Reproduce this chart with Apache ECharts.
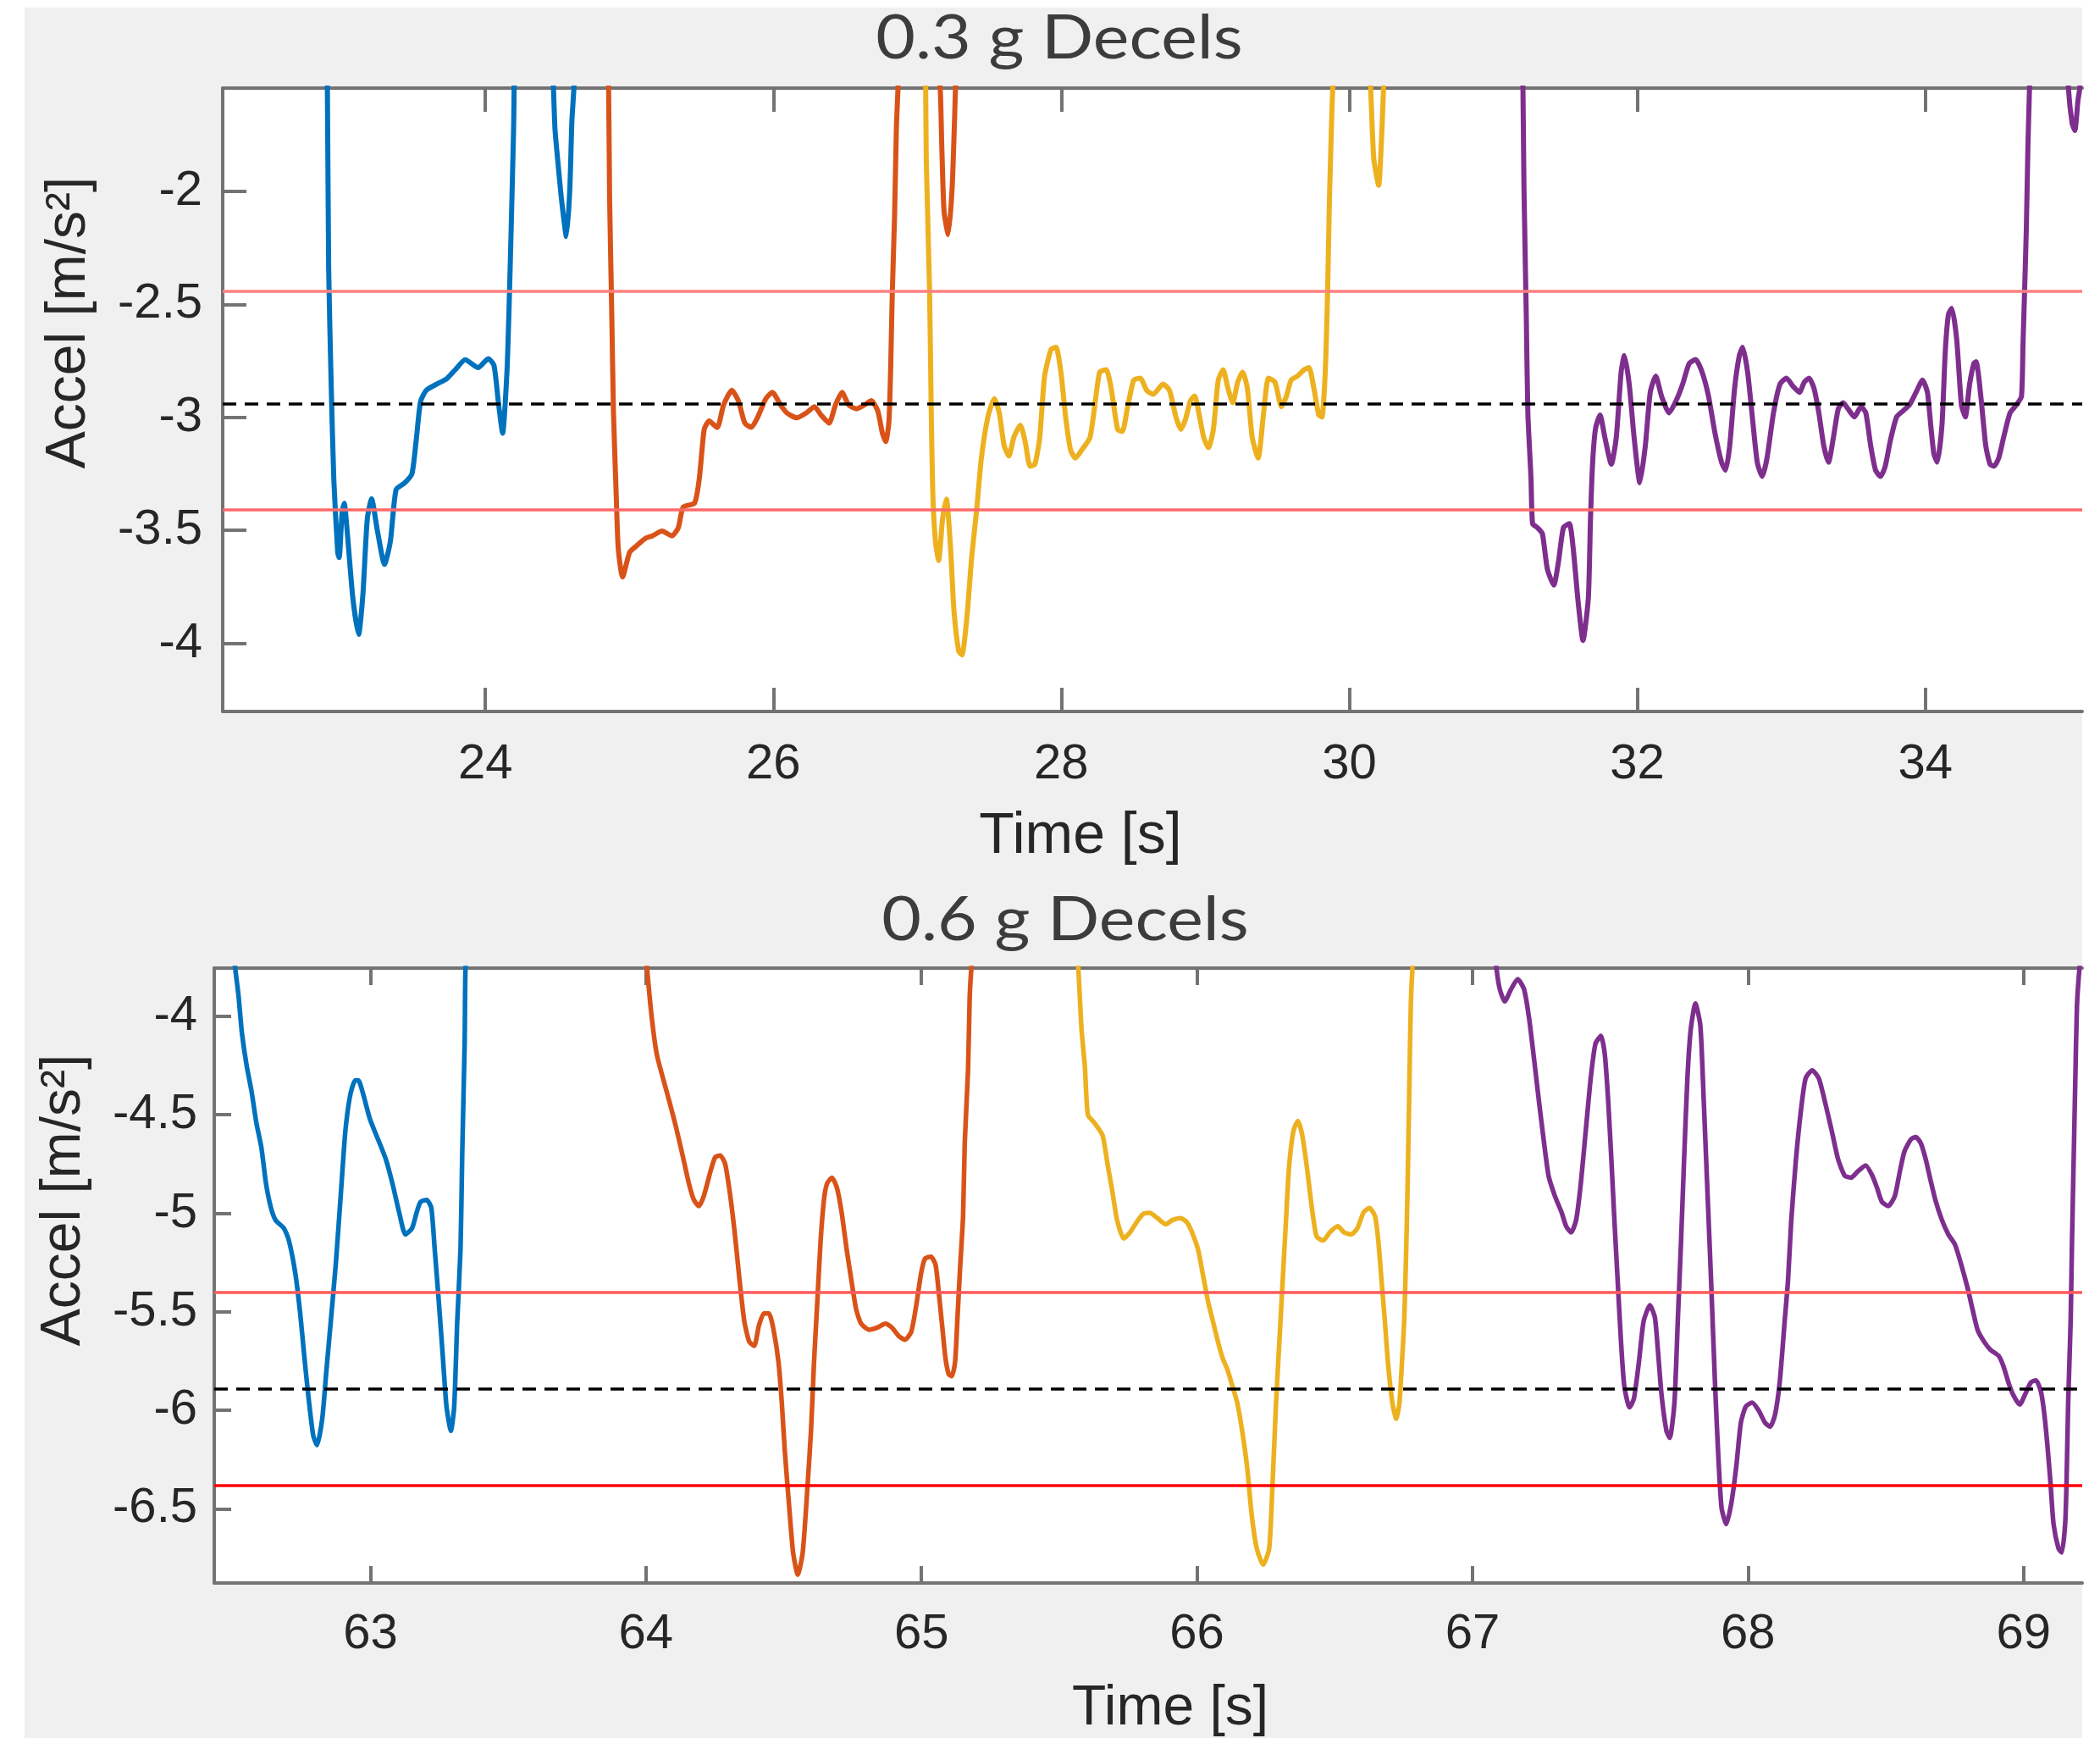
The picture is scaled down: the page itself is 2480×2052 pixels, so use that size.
<!DOCTYPE html>
<html>
<head>
<meta charset="utf-8">
<script src="https://cdn.jsdelivr.net/npm/echarts@6/dist/echarts.min.js"></script>
<style>
  html, body { margin: 0; padding: 0; background: #fff; }
  #chart { width: 2480px; height: 2052px; }
</style>
</head>
<body>
<div id="chart"></div>
<script>
// 0.3 g decels, [time s, accel m/s2]. points above the y range get clipped by the axis
const topBlue = [[22.895,-1.3],[22.903,-1.543],[22.912,-2.345],[22.93,-2.871],[22.948,-3.279],[22.975,-3.6],[22.985,-3.62],[23.005,-3.42],[23.02,-3.38],[23.04,-3.5],[23.08,-3.8],[23.12,-3.96],[23.15,-3.78],[23.18,-3.45],[23.21,-3.36],[23.25,-3.5],[23.3,-3.65],[23.34,-3.55],[23.38,-3.32],[23.44,-3.29],[23.49,-3.25],[23.52,-3.1],[23.55,-2.93],[23.59,-2.88],[23.67,-2.85],[23.73,-2.83],[23.79,-2.79],[23.86,-2.745],[23.95,-2.78],[24.02,-2.74],[24.06,-2.77],[24.09,-2.93],[24.12,-3.07],[24.15,-2.8],[24.165,-2.51],[24.18,-2.15],[24.196,-1.73],[24.21,-1.3],[24.3,-0.8],[24.45,-1.2],[24.473,-1.543],[24.484,-1.728],[24.507,-1.891],[24.529,-2.036],[24.563,-2.2],[24.586,-2.0],[24.601,-1.69],[24.615,-1.543],[24.65,-1.0]];
const topOrange = [[24.84,-1.2],[24.856,-1.543],[24.863,-2.027],[24.878,-2.544],[24.89,-2.98],[24.908,-3.325],[24.923,-3.579],[24.953,-3.706],[25.002,-3.597],[25.047,-3.57],[25.115,-3.534],[25.16,-3.524],[25.227,-3.503],[25.295,-3.524],[25.34,-3.488],[25.374,-3.397],[25.453,-3.379],[25.486,-3.27],[25.52,-3.053],[25.554,-3.016],[25.61,-3.045],[25.655,-2.944],[25.712,-2.88],[25.757,-2.926],[25.802,-3.025],[25.847,-3.044],[25.892,-2.998],[25.948,-2.917],[25.993,-2.889],[26.049,-2.944],[26.094,-2.98],[26.162,-3.002],[26.229,-2.98],[26.286,-2.953],[26.331,-2.989],[26.387,-3.025],[26.432,-2.944],[26.477,-2.889],[26.522,-2.944],[26.578,-2.962],[26.635,-2.944],[26.68,-2.926],[26.725,-2.971],[26.758,-3.071],[26.781,-3.107],[26.803,-3.016],[26.815,-2.78],[26.826,-2.454],[26.842,-2.109],[26.855,-1.71],[26.866,-1.543],[26.9,-1.0],[27.1,-1.0],[27.159,-1.543],[27.17,-1.8],[27.186,-2.091],[27.215,-2.191],[27.242,-1.982],[27.26,-1.655],[27.265,-1.543],[27.29,-1.2]];
const topYellow = [[27.04,-1.0],[27.058,-1.543],[27.062,-1.855],[27.085,-2.436],[27.096,-2.944],[27.107,-3.325],[27.125,-3.543],[27.148,-3.633],[27.175,-3.452],[27.202,-3.361],[27.231,-3.579],[27.254,-3.851],[27.287,-4.033],[27.31,-4.051],[27.344,-3.887],[27.378,-3.615],[27.411,-3.416],[27.445,-3.18],[27.49,-2.998],[27.535,-2.917],[27.569,-2.98],[27.603,-3.125],[27.636,-3.171],[27.67,-3.089],[27.715,-3.034],[27.749,-3.107],[27.783,-3.216],[27.817,-3.207],[27.85,-3.089],[27.884,-2.817],[27.929,-2.699],[27.963,-2.69],[27.997,-2.799],[28.03,-2.998],[28.064,-3.143],[28.098,-3.18],[28.143,-3.143],[28.199,-3.089],[28.233,-2.944],[28.267,-2.799],[28.312,-2.789],[28.346,-2.871],[28.391,-3.053],[28.424,-3.062],[28.458,-2.962],[28.503,-2.835],[28.548,-2.826],[28.593,-2.88],[28.638,-2.898],[28.706,-2.853],[28.751,-2.88],[28.796,-2.998],[28.83,-3.053],[28.863,-3.007],[28.897,-2.926],[28.926,-2.905],[28.955,-2.98],[28.989,-3.089],[29.022,-3.134],[29.056,-3.053],[29.09,-2.835],[29.124,-2.789],[29.157,-2.871],[29.191,-2.935],[29.225,-2.844],[29.259,-2.799],[29.292,-2.871],[29.326,-3.089],[29.367,-3.18],[29.405,-2.98],[29.439,-2.826],[29.484,-2.844],[29.529,-2.953],[29.563,-2.907],[29.596,-2.835],[29.641,-2.817],[29.686,-2.789],[29.72,-2.78],[29.754,-2.871],[29.788,-2.989],[29.81,-2.998],[29.833,-2.799],[29.849,-2.454],[29.862,-2.036],[29.878,-1.673],[29.885,-1.543],[29.92,-1.0],[30.1,-1.0],[30.148,-1.543],[30.17,-1.855],[30.204,-1.973],[30.225,-1.75],[30.238,-1.543],[30.26,-1.2]];
const topPurple = [[31.19,-1.0],[31.206,-1.543],[31.213,-1.982],[31.229,-2.544],[31.24,-2.98],[31.262,-3.27],[31.273,-3.47],[31.307,-3.488],[31.341,-3.515],[31.375,-3.67],[31.42,-3.742],[31.454,-3.633],[31.487,-3.488],[31.528,-3.47],[31.555,-3.579],[31.589,-3.815],[31.623,-3.987],[31.66,-3.8],[31.675,-3.45],[31.69,-3.2],[31.71,-3.05],[31.741,-2.989],[31.775,-3.089],[31.82,-3.207],[31.854,-3.089],[31.888,-2.799],[31.91,-2.726],[31.944,-2.853],[31.978,-3.089],[32.018,-3.289],[32.056,-3.125],[32.09,-2.889],[32.128,-2.817],[32.169,-2.907],[32.221,-2.98],[32.27,-2.926],[32.315,-2.853],[32.36,-2.762],[32.405,-2.744],[32.45,-2.799],[32.495,-2.907],[32.54,-3.071],[32.585,-3.198],[32.613,-3.234],[32.642,-3.125],[32.676,-2.871],[32.709,-2.726],[32.732,-2.69],[32.766,-2.799],[32.799,-2.998],[32.833,-3.198],[32.867,-3.261],[32.901,-3.18],[32.946,-2.98],[32.991,-2.853],[33.036,-2.826],[33.081,-2.862],[33.126,-2.889],[33.16,-2.844],[33.193,-2.826],[33.227,-2.871],[33.261,-2.98],[33.295,-3.125],[33.328,-3.198],[33.362,-3.089],[33.396,-2.962],[33.43,-2.935],[33.463,-2.962],[33.508,-2.998],[33.554,-2.953],[33.587,-2.98],[33.621,-3.125],[33.655,-3.234],[33.689,-3.261],[33.722,-3.216],[33.756,-3.107],[33.801,-2.998],[33.846,-2.971],[33.891,-2.944],[33.936,-2.889],[33.981,-2.835],[34.015,-2.889],[34.038,-3.034],[34.06,-3.162],[34.083,-3.198],[34.116,-3.034],[34.139,-2.708],[34.161,-2.544],[34.184,-2.517],[34.218,-2.653],[34.251,-2.944],[34.278,-2.998],[34.308,-2.853],[34.337,-2.762],[34.353,-2.753],[34.386,-2.907],[34.42,-3.125],[34.45,-3.207],[34.477,-3.216],[34.51,-3.18],[34.544,-3.089],[34.589,-2.98],[34.634,-2.944],[34.668,-2.907],[34.679,-2.672],[34.69,-2.436],[34.702,-2.163],[34.713,-1.8],[34.724,-1.543],[34.75,-1.0],[34.95,-1.0],[34.994,-1.543],[35.02,-1.7],[35.039,-1.73],[35.06,-1.6],[35.073,-1.543],[35.1,-1.2]];

// 0.6 g decels
const botBlue = [[62.49,-3.5],[62.509,-3.755],[62.521,-3.893],[62.533,-4.078],[62.551,-4.253],[62.568,-4.377],[62.586,-4.541],[62.604,-4.665],[62.621,-4.85],[62.639,-4.973],[62.656,-5.035],[62.686,-5.076],[62.704,-5.138],[62.727,-5.302],[62.745,-5.508],[62.759,-5.714],[62.774,-5.92],[62.792,-6.126],[62.806,-6.177],[62.825,-6.043],[62.839,-5.817],[62.856,-5.549],[62.874,-5.261],[62.892,-4.912],[62.909,-4.582],[62.927,-4.397],[62.945,-4.325],[62.956,-4.325],[62.974,-4.397],[62.998,-4.521],[63.027,-4.623],[63.056,-4.726],[63.08,-4.85],[63.104,-4.994],[63.127,-5.107],[63.151,-5.076],[63.168,-4.994],[63.182,-4.942],[63.204,-4.932],[63.221,-4.973],[63.233,-5.179],[63.248,-5.447],[63.262,-5.714],[63.276,-5.981],[63.292,-6.105],[63.304,-5.981],[63.315,-5.549],[63.327,-5.179],[63.333,-4.706],[63.342,-4.13],[63.345,-3.755],[63.36,-3.4]];
const botOrange = [[63.99,-3.5],[64.004,-3.755],[64.021,-4.006],[64.039,-4.191],[64.062,-4.315],[64.086,-4.438],[64.109,-4.562],[64.133,-4.706],[64.156,-4.85],[64.174,-4.932],[64.192,-4.963],[64.21,-4.912],[64.234,-4.788],[64.251,-4.716],[64.269,-4.706],[64.287,-4.747],[64.304,-4.891],[64.322,-5.097],[64.34,-5.344],[64.357,-5.549],[64.375,-5.652],[64.393,-5.673],[64.41,-5.57],[64.428,-5.508],[64.446,-5.508],[64.463,-5.591],[64.481,-5.755],[64.493,-5.961],[64.504,-6.208],[64.519,-6.475],[64.534,-6.722],[64.551,-6.835],[64.569,-6.722],[64.587,-6.372],[64.599,-6.105],[64.61,-5.755],[64.622,-5.447],[64.634,-5.138],[64.646,-4.932],[64.657,-4.85],[64.675,-4.819],[64.693,-4.87],[64.71,-4.994],[64.728,-5.179],[64.746,-5.344],[64.763,-5.488],[64.781,-5.56],[64.81,-5.591],[64.84,-5.58],[64.869,-5.56],[64.893,-5.58],[64.916,-5.621],[64.94,-5.642],[64.963,-5.601],[64.981,-5.467],[64.999,-5.302],[65.013,-5.23],[65.034,-5.22],[65.051,-5.261],[65.063,-5.405],[65.075,-5.57],[65.087,-5.735],[65.099,-5.817],[65.11,-5.827],[65.122,-5.755],[65.13,-5.549],[65.14,-5.282],[65.151,-5.014],[65.157,-4.644],[65.169,-4.274],[65.175,-3.903],[65.181,-3.755],[65.2,-3.4]];
const botYellow = [[65.55,-3.5],[65.569,-3.755],[65.581,-4.068],[65.593,-4.253],[65.604,-4.5],[65.628,-4.541],[65.657,-4.603],[65.675,-4.747],[65.693,-4.891],[65.71,-5.035],[65.734,-5.128],[65.757,-5.097],[65.781,-5.045],[65.804,-5.004],[65.828,-4.998],[65.857,-5.025],[65.887,-5.056],[65.91,-5.035],[65.94,-5.025],[65.963,-5.045],[65.982,-5.097],[66.005,-5.19],[66.023,-5.323],[66.04,-5.447],[66.058,-5.549],[66.076,-5.652],[66.093,-5.735],[66.111,-5.796],[66.129,-5.879],[66.146,-5.961],[66.164,-6.105],[66.182,-6.29],[66.199,-6.537],[66.217,-6.702],[66.24,-6.784],[66.262,-6.702],[66.273,-6.414],[66.287,-5.961],[66.299,-5.652],[66.311,-5.344],[66.323,-5.035],[66.334,-4.767],[66.35,-4.582],[66.366,-4.531],[66.382,-4.603],[66.399,-4.767],[66.417,-4.973],[66.434,-5.117],[66.458,-5.138],[66.482,-5.097],[66.511,-5.066],[66.534,-5.097],[66.56,-5.107],[66.582,-5.076],[66.605,-4.994],[66.626,-4.973],[66.646,-5.014],[66.658,-5.138],[66.67,-5.344],[66.682,-5.549],[66.693,-5.755],[66.709,-5.961],[66.723,-6.043],[66.735,-5.961],[66.744,-5.755],[66.752,-5.549],[66.758,-5.261],[66.764,-4.891],[66.77,-4.418],[66.776,-3.944],[66.782,-3.755],[66.8,-3.4]];
const botPurple = [[67.07,-3.5],[67.087,-3.755],[67.099,-3.862],[67.117,-3.924],[67.14,-3.862],[67.164,-3.811],[67.187,-3.862],[67.205,-4.006],[67.223,-4.212],[67.24,-4.418],[67.258,-4.623],[67.276,-4.809],[67.299,-4.912],[67.323,-4.994],[67.34,-5.066],[67.358,-5.097],[67.376,-5.035],[67.393,-4.85],[67.411,-4.582],[67.429,-4.315],[67.446,-4.14],[67.466,-4.099],[67.48,-4.191],[67.492,-4.418],[67.504,-4.726],[67.515,-5.035],[67.527,-5.344],[67.539,-5.652],[67.551,-5.879],[67.57,-5.985],[67.586,-5.94],[67.604,-5.755],[67.621,-5.549],[67.644,-5.467],[67.662,-5.529],[67.674,-5.714],[67.686,-5.92],[67.704,-6.105],[67.716,-6.14],[67.733,-5.961],[67.745,-5.549],[67.757,-5.138],[67.768,-4.726],[67.78,-4.315],[67.792,-4.068],[67.809,-3.934],[67.827,-4.047],[67.839,-4.418],[67.854,-4.932],[67.866,-5.344],[67.88,-5.858],[67.892,-6.228],[67.904,-6.496],[67.921,-6.578],[67.939,-6.475],[67.957,-6.29],[67.974,-6.064],[67.992,-5.981],[68.015,-5.961],[68.039,-6.002],[68.062,-6.064],[68.08,-6.084],[68.098,-6.023],[68.115,-5.858],[68.133,-5.549],[68.145,-5.344],[68.157,-5.035],[68.174,-4.726],[68.192,-4.479],[68.209,-4.315],[68.233,-4.274],[68.257,-4.315],[68.28,-4.438],[68.304,-4.582],[68.327,-4.726],[68.351,-4.809],[68.374,-4.819],[68.398,-4.788],[68.427,-4.757],[68.451,-4.809],[68.468,-4.87],[68.486,-4.942],[68.509,-4.963],[68.533,-4.912],[68.551,-4.788],[68.568,-4.685],[68.592,-4.623],[68.609,-4.613],[68.627,-4.644],[68.645,-4.726],[68.662,-4.829],[68.68,-4.932],[68.704,-5.035],[68.727,-5.107],[68.751,-5.158],[68.774,-5.261],[68.798,-5.385],[68.815,-5.488],[68.833,-5.591],[68.857,-5.652],[68.88,-5.693],[68.91,-5.724],[68.927,-5.776],[68.945,-5.858],[68.962,-5.92],[68.986,-5.971],[69.009,-5.909],[69.027,-5.858],[69.045,-5.848],[69.062,-5.899],[69.074,-6.002],[69.086,-6.167],[69.098,-6.372],[69.109,-6.578],[69.127,-6.702],[69.139,-6.722],[69.151,-6.578],[69.156,-6.372],[69.162,-5.961],[69.171,-5.549],[69.176,-5.138],[69.182,-4.726],[69.188,-4.315],[69.194,-3.944],[69.203,-3.755],[69.22,-3.5]];

// target and tolerance lines
const topTarget = -2.943;
const topBand = [-2.445, -3.407];
const botTarget = -5.895;
const botBand = [-5.397, -6.377];

// tick labels
const topXTicks = [24, 26, 28, 30, 32, 34];
const topYTicks = [-4, -3.5, -3, -2.5, -2];
const botXTicks = [63, 64, 65, 66, 67, 68, 69];
const botYTicks = [-6.5, -6, -5.5, -5, -4.5, -4];

const colors = ['#0072BD', '#D95319', '#EDB120', '#7E2F8E'];
const axisGray = '#737373';
const textDark = '#262626';
const tickFont = 'Liberation Sans';

const chart = echarts.init(document.getElementById('chart'));

function xAxes(gridIndex, min, max, ticks, tickLen, margin) {
  const line = { show: true, onZero: false, lineStyle: { color: axisGray, width: 4 } };
  const tick = { show: true, inside: true, length: tickLen, customValues: ticks, lineStyle: { color: axisGray, width: 4 } };
  return [
    {
      type: 'value', gridIndex, min, max, position: 'bottom',
      axisLine: line, axisTick: tick, splitLine: { show: false },
      axisLabel: { customValues: ticks, margin, fontSize: 58, fontFamily: tickFont, color: textDark },
    },
    {
      type: 'value', gridIndex, min, max, position: 'top',
      axisLine: line, axisTick: tick, splitLine: { show: false },
      axisLabel: { show: false },
    },
  ];
}

function yAxis(gridIndex, min, max, ticks, tickLen, margin) {
  return {
    type: 'value', gridIndex, min, max, position: 'left',
    axisLine: { show: true, onZero: false, lineStyle: { color: axisGray, width: 4 } },
    axisTick: { show: true, inside: true, length: tickLen, customValues: ticks, lineStyle: { color: axisGray, width: 4 } },
    axisLabel: { customValues: ticks, margin, fontSize: 58, fontFamily: tickFont, color: textDark },
    splitLine: { show: false },
  };
}

function trace(data, color, xi, yi, w) {
  return {
    type: 'line', data, xAxisIndex: xi, yAxisIndex: yi,
    showSymbol: false, symbol: 'none', clip: true, z: 2,
    smooth: 0.2,
    lineStyle: { color, width: w, join: 'round', cap: 'round' }, itemStyle: { color },
  };
}

function refLines(xi, yi, target, band, hiColor, loColor) {
  return {
    type: 'line', data: [], xAxisIndex: xi, yAxisIndex: yi, z: 5, silent: true,
    markLine: {
      symbol: 'none', silent: true, animation: false, label: { show: false },
      data: [
        { yAxis: band[0], lineStyle: { color: hiColor, width: 3.5, type: 'solid' } },
        { yAxis: band[1], lineStyle: { color: loColor, width: 3.5, type: 'solid' } },
        { yAxis: target, lineStyle: { color: '#000', width: 3.5, type: [16, 10] } },
      ],
    },
  };
}

function label(text, x, y, size, family, color, extra) {
  return Object.assign({
    type: 'text', x, y, silent: true,
    style: {
      text, fontSize: size, fontFamily: family, fill: color,
      textAlign: 'center', align: 'center', textVerticalAlign: 'middle', verticalAlign: 'middle',
    },
  }, extra || {});
}

const option = {
  animation: false,
  backgroundColor: '#F0F0F0',
  grid: [
    { left: 263, top: 104, width: 2196, height: 736, show: true, backgroundColor: '#fff', borderWidth: 0 },
    { left: 253, top: 1143, width: 2206, height: 726, show: true, backgroundColor: '#fff', borderWidth: 0 },
  ],
  xAxis: [
    ...xAxes(0, 22.176, 35.09, topXTicks, 28, 34),
    ...xAxes(1, 62.433, 69.213, botXTicks, 20, 32),
  ],
  yAxis: [
    yAxis(0, -4.301, -1.543, topYTicks, 28, 24),
    yAxis(1, -6.877, -3.755, botYTicks, 20, 20),
  ],
  series: [
    trace(topBlue, colors[0], 0, 0, 6),
    trace(topOrange, colors[1], 0, 0, 6),
    trace(topYellow, colors[2], 0, 0, 6),
    trace(topPurple, colors[3], 0, 0, 6),
    refLines(0, 0, topTarget, topBand, '#FF8080', '#FF6A6A'),
    trace(botBlue, colors[0], 2, 1, 5.5),
    trace(botOrange, colors[1], 2, 1, 5.5),
    trace(botYellow, colors[2], 2, 1, 5.5),
    trace(botPurple, colors[3], 2, 1, 5.5),
    refLines(2, 1, botTarget, botBand, '#FF5A5A', '#FF0000'),
  ],
  graphic: [
    // the screenshot is cropped: white strips on left, top and right
    { type: 'rect', silent: true, shape: { x: 0, y: 0, width: 29, height: 2052 }, style: { fill: '#fff' } },
    { type: 'rect', silent: true, shape: { x: 0, y: 0, width: 2480, height: 9 }, style: { fill: '#fff' } },
    { type: 'rect', silent: true, shape: { x: 2459, y: 0, width: 21, height: 2052 }, style: { fill: '#fff' } },
    label('0.3 g Decels', 1251, 46, 72, 'Lato', '#3c3c3c', { scaleX: 1.12 }),
    label('0.6 g Decels', 1258, 1087, 72, 'Lato', '#3c3c3c', { scaleX: 1.12 }),
    label('Time [s]', 1276, 988, 68, tickFont, textDark),
    label('Time [s]', 1382, 2018, 66, tickFont, textDark),
    label('Accel [m/s²]', 82, 381, 66, tickFont, textDark, { rotation: Math.PI / 2 }),
    label('Accel [m/s²]', 76, 1417, 66, tickFont, textDark, { rotation: Math.PI / 2 }),
  ],
};

chart.setOption(option);
window.addEventListener('resize', () => chart.resize());
</script>
</body>
</html>
